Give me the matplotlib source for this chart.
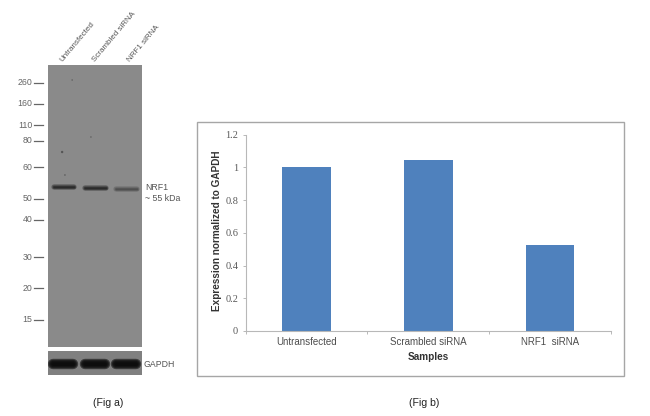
import matplotlib
matplotlib.use('Agg')
import matplotlib.pyplot as plt
from matplotlib.patches import Rectangle

W, H = 650, 416

# bar chart (fig b)
samples = ['Untransfected', 'Scrambled siRNA', 'NRF1  siRNA']
expression = [1.0, 1.047, 0.525]
y_ticks = [0, 0.2, 0.4, 0.6, 0.8, 1, 1.2]

# western blot (fig a)
lane_names = ['Untransfected', 'Scrambled siRNA', 'NRF1 siRNA']
lanes = [1, 2, 3]
marker_sizes = ['260', '160', '110', '80', '60', '50', '40', '30', '20', '15']
marker_migration = [17.7, 39, 60, 75.7, 102.3, 133.7, 154.7, 192.3, 223.3, 254.7]
nrf1_strength = [0.8, 0.8, 0.38]
nrf1_migration = [122, 123, 124]
gapdh_strength = [1.0, 1.0, 1.0]
speck_lane = [0.96, 1.05, 1.28, 1.88]
speck_migration = [87, 110, 15, 72]

plt.rcParams['font.family'] = ['Liberation Sans', 'DejaVu Sans']

fig = plt.figure(figsize=(W / 100, H / 100), dpi=100)


def px_axes(left, top, right, bottom):
    return fig.add_axes([left / W, 1 - bottom / H, (right - left) / W, (bottom - top) / H])


def soft_band(ax, x, y, half, strength, thick):
    # stacked strokes so the band edge looks blurry like the scan
    for k in [1.0, 0.8, 0.6, 0.4, 0.25]:
        ax.plot([x - half, x + half], [y, y], color='#0c0c0c', lw=thick * k,
                alpha=min(1, 0.3 * strength), solid_capstyle='round')


# blot panel
blot = px_axes(47.7, 65, 141.7, 346.7)
blot.set_xlim(0.5, 3.5)
blot.set_ylim(281.7, 0)
blot.axis('off')
blot.add_patch(Rectangle((0, 0), 1, 1, transform=blot.transAxes, color='#8a8a8a', zorder=0))
for x, s, m in zip(lanes, nrf1_strength, nrf1_migration):
    soft_band(blot, x + 0.02, m, 0.33, s, 4.0)
blot.scatter(speck_lane, speck_migration, s=[3, 1.2, 1, 1], color='#555555', linewidths=0)

# size ladder ticks sit a little away from the blot
trans = blot.get_yaxis_transform()
for lab, m in zip(marker_sizes, marker_migration):
    blot.plot([-0.146, -0.05], [m, m], transform=trans, color='#666666', lw=0.9, clip_on=False)
    blot.text(-0.165, m, lab, transform=trans, ha='right', va='center', fontsize=6.3, color='#666666')

for lane_x, name in zip([64, 97, 132], lane_names):
    fig.text(lane_x / W, 1 - 63 / H, name, rotation=50, rotation_mode='anchor', ha='left', va='bottom',
             fontsize=5.8, color='#555555')

fig.text(145 / W, 1 - 188 / H, 'NRF1', fontsize=6.3, color='#555555', va='center')
fig.text(145 / W, 1 - 198.5 / H, '~ 55 kDa', fontsize=6.3, color='#555555', va='center')

# loading control
ctrl = px_axes(47.7, 351, 141.7, 374.5)
ctrl.set_xlim(0.5, 3.5)
ctrl.set_ylim(1, 0)
ctrl.axis('off')
ctrl.add_patch(Rectangle((0, 0), 1, 1, transform=ctrl.transAxes, color='#808080', zorder=0))
for x, s in zip(lanes, gapdh_strength):
    soft_band(ctrl, x, 0.55, 0.32, s * 1.9, 7.5)
fig.text(144 / W, 1 - 364.5 / H, 'GAPDH', fontsize=6.3, color='#555555', va='center')

# frame around the excel chart
fig.add_artist(Rectangle((197 / W, 1 - 376 / H), 427 / W, 254 / H, transform=fig.transFigure,
                         fill=False, edgecolor='#a6a6a6', lw=1.0))

ax = px_axes(245.5, 134.5, 611, 331)
x_pos = list(range(len(samples)))
ax.bar(x_pos, expression, width=0.4, color='#4f81bd')
ax.set_xlim(-0.5, 2.5)
ax.set_ylim(0, 1.2)
ax.set_yticks(y_ticks)
ax.set_yticklabels([str(t) for t in y_ticks], family='Liberation Serif', fontsize=7.5, color='#595959')
ax.set_xticks([-0.5, 0.5, 1.5, 2.5])
ax.set_xticklabels([])
ax.tick_params(axis='both', length=2.5, width=0.7, color='#b8b8b8', pad=2.8)
for side in ['top', 'right']:
    ax.spines[side].set_visible(False)
for side in ['left', 'bottom']:
    ax.spines[side].set_color('#b8b8b8')
    ax.spines[side].set_linewidth(0.8)
for x, name in zip(x_pos, samples):
    ax.annotate(name, (x, 0), xycoords=('data', 'axes fraction'), xytext=(0, -11), textcoords='offset pixels',
                ha='center', va='center', fontsize=7, color='#4d4d4d')

fig.text(216.7 / W, 1 - 231 / H, 'Expression normalized to GAPDH', rotation=90, ha='center', va='center',
         fontsize=7.2, fontweight='bold', color='#333333')
fig.text(428 / W, 1 - 357 / H, 'Samples', ha='center', va='center', fontsize=7.2, fontweight='bold', color='#333333')

fig.text(107.7 / W, 1 - 403 / H, '(Fig a)', ha='center', va='center', fontsize=7.6, color='#222222')
fig.text(424 / W, 1 - 403 / H, '(Fig b)', ha='center', va='center', fontsize=7.6, color='#222222')

fig.savefig('out.png', dpi=100)
